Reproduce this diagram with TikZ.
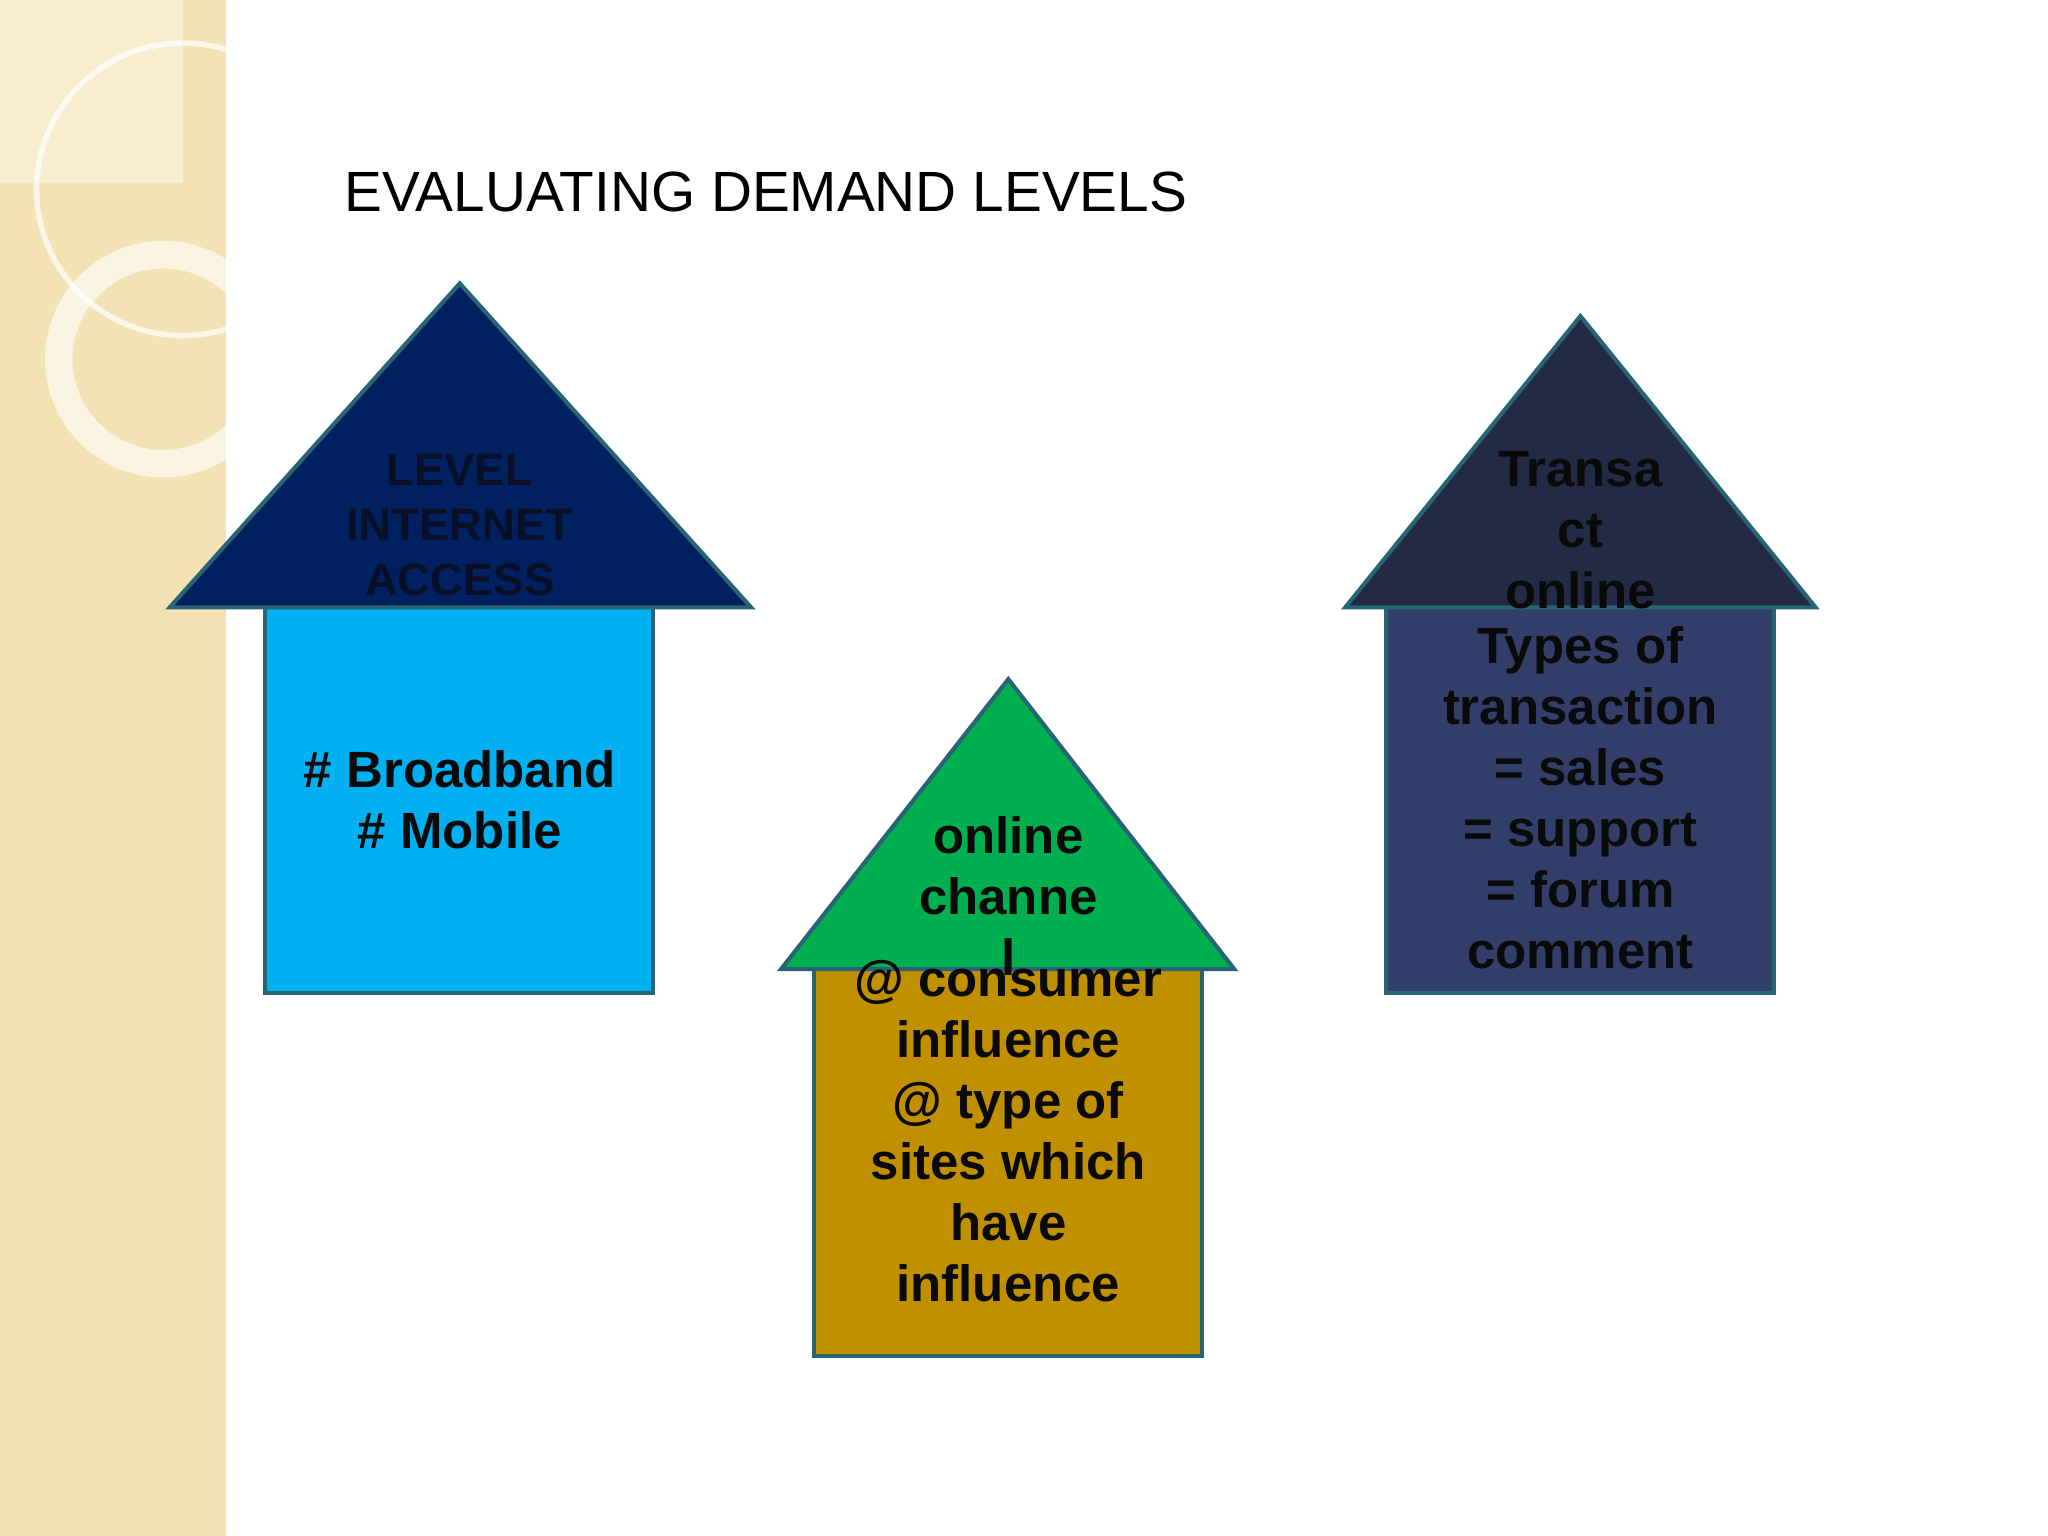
\documentclass[tikz,border=0pt]{standalone}
\usepackage{fontspec}
\setmainfont{Liberation Sans}
\begin{document}
\begin{tikzpicture}[x=0.01cm,y=-0.01cm,
  shp/.style={draw={rgb,255:red,40;green,100;blue,115},line width=0.9pt,line join=miter},
  big/.style={font=\bfseries\fontsize{11.1}{13.3}\selectfont,align=center,text={rgb,255:red,10;green,10;blue,10},inner sep=0},
  small/.style={font=\bfseries\fontsize{9.9}{11.9}\selectfont,align=center,text={rgb,255:red,10;green,15;blue,40},inner sep=0}]
\definecolor{beige}{RGB}{242,226,180}
\definecolor{navy}{RGB}{0,32,96}
\definecolor{sky}{RGB}{0,176,240}
\definecolor{grn}{RGB}{0,176,80}
\definecolor{gold}{RGB}{192,144,0}
\definecolor{dnavy}{RGB}{34,42,69}
\definecolor{slate}{RGB}{51,63,106}
\useasboundingbox (0,0) rectangle (1568,1176);
\fill[white] (0,0) rectangle (1568,1176);
\fill[beige] (0,0) rectangle (173,1176);
\begin{scope}
\clip (0,0) rectangle (173,1176);
\fill[white,opacity=0.35] (0,0) rectangle (140,140);
\draw[white,opacity=0.7,line width=1.2pt] (140,145) circle (112);
\draw[white,opacity=0.6,line width=6pt] (125,275) circle (80);
\end{scope}
\node[anchor=west,font=\fontsize{12.35}{14}\selectfont,inner sep=0] (title) at (263,147) {EVALUATING DEMAND LEVELS};
% house 1
\path[shp,fill=sky] (203,465) rectangle (500,760);
\path[shp,fill=navy] (352,217) -- (575,465) -- (130,465) -- cycle;
% house 2
\path[shp,fill=gold] (623,742) rectangle (920,1038);
\path[shp,fill=grn] (772,520) -- (945,742) -- (598,742) -- cycle;
% house 3
\path[shp,fill=slate] (1061,465) rectangle (1358,760);
\path[shp,fill=dnavy] (1210,242) -- (1390,465) -- (1030,465) -- cycle;
% texts
\node[small] (t1) at (352,402) {LEVEL\\INTERNET\\ACCESS};
\node[big] (b1) at (352,612) {\# Broadband\\\# Mobile};
\node[big] (t2) at (772,686) {online\\channe\\l};
\node[big] (b2) at (772,866) {@ consumer\\influence\\@ type of\\sites which\\have\\influence};
\node[big] (t3) at (1210,406) {Transa\\ct\\online};
\node[big] (b3) at (1210,611) {Types of\\transaction\\= sales\\= support\\= forum\\comment};
\end{tikzpicture}
\end{document}
